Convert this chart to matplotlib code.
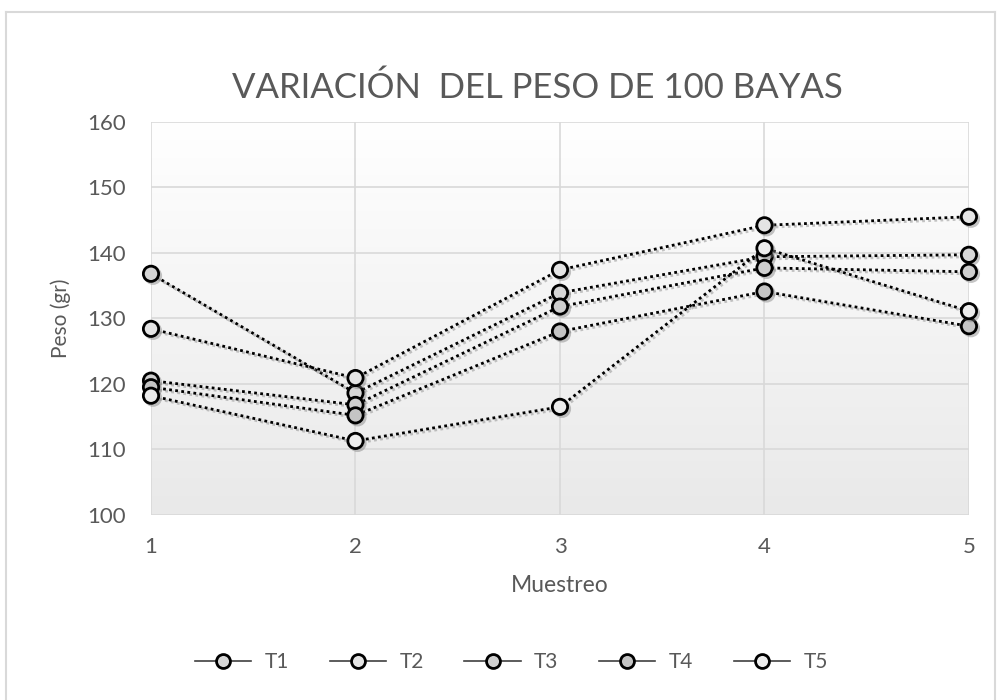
import matplotlib
matplotlib.use("Agg")
import matplotlib.pyplot as plt
import matplotlib.patheffects as pe
from matplotlib.lines import Line2D
import numpy as np

# datos
muestreo = [1, 2, 3, 4, 5]
t1 = [136.8, 118.6, 133.9, 139.4, 139.7]
t2 = [128.4, 120.9, 137.4, 144.2, 145.5]
t3 = [120.5, 116.8, 131.8, 137.7, 137.1]
t4 = [119.5, 115.2, 128.0, 134.1, 128.8]
t5 = [118.2, 111.3, 116.5, 140.7, 131.1]
series = {"T1": t1, "T2": t2, "T3": t3, "T4": t4, "T5": t5}
fills = {"T1": "#d6d6d6", "T2": "#e4e4e4", "T3": "#cfcfcf", "T4": "#c4c4c4", "T5": "#ececec"}

plt.rcParams["font.family"] = ["Lato", "DejaVu Sans"]
txt_color = "#595959"

fig = plt.figure(figsize=(9.98, 7.0), dpi=100)
ax = fig.add_axes([0.1513, 0.2643, 0.8196, 0.5618])

# borde exterior del grafico
fig.add_artist(plt.Line2D([0.006, 0.006], [0.0, 0.983], color="#d9d9d9", lw=1.5))
fig.add_artist(plt.Line2D([0.006, 0.997], [0.983, 0.983], color="#d9d9d9", lw=1.5))
fig.add_artist(plt.Line2D([0.997, 0.997], [0.0, 0.983], color="#d9d9d9", lw=1.5))

# fondo degradado del area de trazado
grad = np.linspace(0, 1, 256).reshape(-1, 1)
ax.imshow(grad, extent=[1, 5, 100, 160], aspect="auto", origin="upper",
          cmap=matplotlib.colors.LinearSegmentedColormap.from_list("g", ["#ffffff", "#e9e9e9"]),
          zorder=0)

shadow = [pe.SimpleLineShadow(offset=(1.5, -1.5), shadow_color="#808080", alpha=0.45), pe.Normal()]
for name, vals in series.items():
    ax.plot(muestreo, vals, linestyle=(0, (1, 1.2)), color="black", lw=2.0,
            marker="o", markersize=11, markerfacecolor=fills[name],
            markeredgecolor="black", markeredgewidth=2.0, zorder=3,
            path_effects=shadow, clip_on=False)

ax.set_xlim(1, 5)
ax.set_ylim(100, 160)
ax.set_xticks(muestreo)
ax.set_yticks(range(100, 161, 10))
ax.grid(True, color="#d9d9d9", lw=1.2, zorder=1)
ax.set_axisbelow(True)
for s in ax.spines.values():
    s.set_visible(False)
ax.tick_params(length=0, labelsize=16, labelcolor=txt_color)
ax.tick_params(axis="y", pad=18)
ax.tick_params(axis="x", pad=16)

ax.set_xlabel("Muestreo", fontsize=16.5, color=txt_color, labelpad=13)
ax.set_ylabel("Peso (gr)", fontsize=15, color=txt_color, labelpad=12)
fig.text(0.5386, 0.875, "VARIACIÓN  DEL PESO DE 100 BAYAS", fontsize=25,
         color=txt_color, ha="center", va="center")

# leyenda con linea continua
handles = [Line2D([0], [0], color="#404040", lw=1.2, marker="o", markersize=10,
                  markerfacecolor=fills[n], markeredgecolor="black", markeredgewidth=2.0)
           for n in series]
fig.legend(handles, list(series.keys()), loc="center", bbox_to_anchor=(0.5125, 0.054),
           ncol=5, frameon=False, fontsize=15, labelcolor=txt_color,
           handlelength=2.7, columnspacing=1.95, handletextpad=0.65)

fig.savefig("out.png", dpi=100)
